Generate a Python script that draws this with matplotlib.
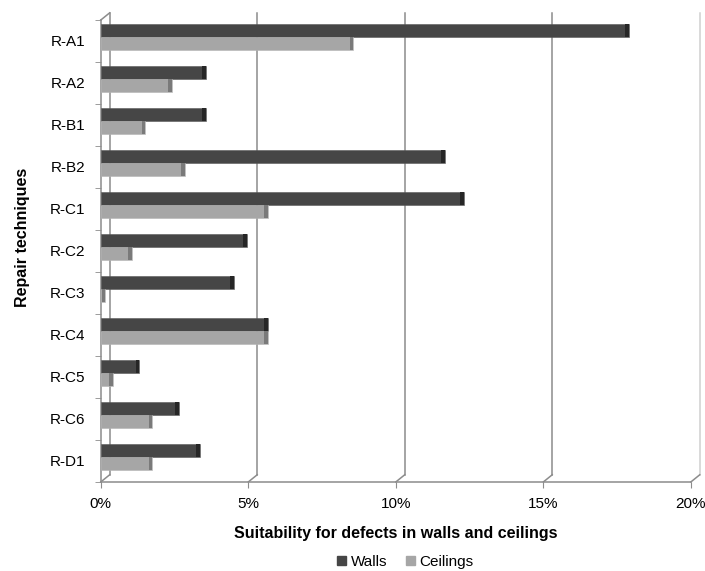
import matplotlib.pyplot as plt
import numpy as np
from matplotlib.ticker import FuncFormatter

plt.rcParams['font.family'] = ['Liberation Sans', 'DejaVu Sans']

techniques = ['R-A1', 'R-A2', 'R-B1', 'R-B2', 'R-C1', 'R-C2',
              'R-C3', 'R-C4', 'R-C5', 'R-C6', 'R-D1']
walls = [17.9, 3.55, 3.55, 11.65, 12.3, 4.95, 4.5, 5.65, 1.3, 2.65, 3.35]
ceilings = [8.55, 2.4, 1.5, 2.85, 5.65, 1.05, 0.15, 5.65, 0.4, 1.75, 1.75]

wall_col = '#464646'
wall_side = '#262626'
ceil_col = '#a6a6a6'
ceil_side = '#7a7a7a'
grid_col = '#8c8c8c'

fig = plt.figure(figsize=(7.05, 5.71), dpi=100)
ax = fig.add_axes([0.143, 0.156, 0.837, 0.809])

y = np.arange(len(techniques))
h = 0.31
shift = -0.09   # bars sit a little up / back like the 3D excel look
dx = 0.3        # depth offset of back wall in % units
dy = 0.17       # depth offset in category units

# back wall gridlines with small floor diagonals
for t in [0, 5, 10, 15, 20]:
    c = grid_col if t < 20 else '#d0d0d0'
    ax.plot([t + dx, t + dx], [len(y) - 0.5 - dy, -0.5 - dy], color=c,
            lw=1.1, clip_on=False, zorder=1)
    ax.plot([t, t + dx], [len(y) - 0.5, len(y) - 0.5 - dy], color=grid_col,
            lw=1.1, clip_on=False, zorder=1)
ax.plot([0, dx], [-0.5, -0.5 - dy], color=grid_col, lw=1.1, clip_on=False)

# bars, front face + thin darker side face
ax.barh(y + shift - h / 2, walls, height=h, color=wall_col, zorder=3,
        edgecolor='#5a5a5a', linewidth=0.4)
ax.barh(y + shift - h / 2, [0.12] * len(y), left=np.array(walls) - 0.12,
        height=h, color=wall_side, zorder=4)
ax.barh(y + shift + h / 2, ceilings, height=h, color=ceil_col, zorder=3,
        edgecolor='#b4b4b4', linewidth=0.4)
ax.barh(y + shift + h / 2, [0.12] * len(y), left=np.array(ceilings) - 0.12,
        height=h, color=ceil_side, zorder=4)

ax.set_xlim(0, 20)
ax.set_ylim(len(y) - 0.5, -0.5)
ax.set_xticks([0, 5, 10, 15, 20])
ax.xaxis.set_major_formatter(FuncFormatter(lambda v, p: '%d%%' % v))
ax.set_yticks(y)
ax.set_yticklabels(techniques)
ax.set_yticks(np.arange(len(y) + 1) - 0.5, minor=True)

for s in ['top', 'right']:
    ax.spines[s].set_visible(False)
ax.spines['left'].set_color(grid_col)
ax.spines['bottom'].set_color(grid_col)
ax.spines['left'].set_linewidth(1.1)
ax.spines['bottom'].set_linewidth(1.1)

ax.tick_params(axis='y', which='major', length=0, labelsize=11, pad=11)
ax.tick_params(axis='y', which='minor', length=4, color=grid_col)
ax.tick_params(axis='x', length=4, color=grid_col, labelsize=11, pad=7)

ax.set_xlabel('Suitability for defects in walls and ceilings', fontsize=11.5,
              fontweight='bold', labelpad=11)
ax.set_ylabel('Repair techniques', fontsize=11.5, fontweight='bold')
ax.yaxis.set_label_coords(-0.12, 0.53)

handles = [plt.Rectangle((0, 0), 1, 1, color=wall_col),
           plt.Rectangle((0, 0), 1, 1, color=ceil_col)]
fig.legend(handles, ['Walls', 'Ceilings'], loc='center', ncol=2,
           bbox_to_anchor=(0.575, 1 - 562 / 571), frameon=False, fontsize=11,
           handlelength=0.6, handleheight=0.6, handletextpad=0.3,
           columnspacing=1.2)

fig.savefig('out.png', dpi=100)
